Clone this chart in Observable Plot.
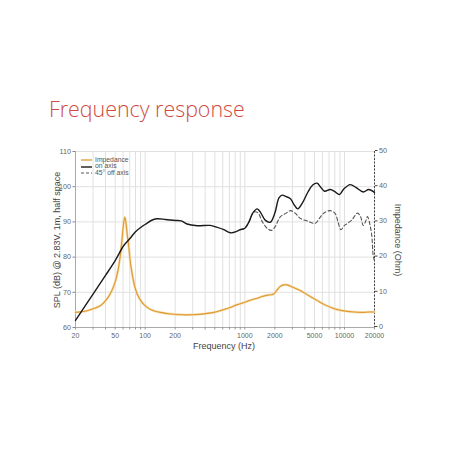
<!DOCTYPE html>
<html><head><meta charset="utf-8">
<script src="https://cdn.jsdelivr.net/npm/d3@7"></script>
<script src="https://cdn.jsdelivr.net/npm/@observablehq/plot@0.6"></script>
<style>
body{margin:0;background:#fff;}
#wrap{position:relative;width:452px;height:452px;overflow:hidden;font-family:"Liberation Sans",Arial,sans-serif;background:#fff;}
#title{position:absolute;left:49px;top:94px;font-family:"Open Sans",sans-serif;font-weight:300;font-size:21.4px;color:#cf4a42;white-space:nowrap;}
#chart{position:absolute;left:0;top:0;}
#legend{position:absolute;left:81px;top:157px;font-size:6.8px;color:#555;}
#legend div{height:6.4px;line-height:6.4px;display:flex;align-items:center;}
#legend svg{margin-right:3px;}
.lab{position:absolute;font-size:9px;color:#444;white-space:nowrap;}
</style>
</head><body>
<div id="wrap">
<div id="title">Frequency response</div>
<div id="chart"></div>
<div id="legend"></div>
<div class="lab" id="xlab" style="left:0;width:448px;text-align:center;top:341px;">&nbsp;</div>
<div class="lab" id="ylab" style="left:57px;top:240px;transform:translate(-50%,-50%) rotate(-90deg);"></div>
<div class="lab" id="y2lab" style="left:398px;top:240px;transform:translate(-50%,-50%) rotate(90deg);"></div>
</div>
<script>
// ---- data ----
const onFreq = [20,30,40,50,61,70,80,93,104,115,131,160,200,230,263,333,450,520,615,720,830,900,1000,1100,1200,1330,1450,1600,1800,2000,2200,2370,2600,2870,3100,3400,3800,4300,4800,5300,5800,6300,7200,8000,8900,9800,11400,13000,15400,17500,20000];
const onSpl  = [62,69.5,74.8,79,83.3,85.2,87.2,88.7,89.6,90.4,90.9,90.7,90.4,90.3,89.4,88.9,89.0,88.5,87.8,86.9,87.3,87.8,88.2,90,92.5,93.7,92.5,90.5,89.9,92.5,96.8,97.6,97.2,96.6,95,93.7,95.5,98.5,100.5,101.0,99.8,98.7,99.2,98.6,97.8,99.3,100.6,99.8,98.5,99.2,98.4];
const offFreq = [900,1000,1100,1230,1350,1500,1700,1850,2000,2280,2600,2870,3200,3600,4200,5100,5600,6200,7200,8100,8600,9200,10000,10600,11800,13500,14500,15400,16200,17000,18000,18800,19400,20000];
const offSpl  = [87.8,88.2,90,92.8,92.6,90,88,87.6,88.5,91.5,92.5,93.2,92.5,91,90.3,89.6,91,92.5,93.2,92.3,90,87.8,89,89.5,90.5,92.5,91.5,89,90,91.5,89.2,86,80.5,79];
const impFreq = [20,25,30,36,41.6,46,50.6,54,56.6,59,61,62.5,64,66,68.6,71,74,78,83,92,104,120,142,170,209,260,330,420,490,570,700,840,980,1150,1330,1500,1700,1900,1960,2100,2250,2450,2650,3000,3600,4300,5300,6300,7800,9500,12400,15000,17500,20000];
const impOhm  = [4.3,4.6,5.3,6.3,8.2,10.3,13.4,17,20.9,26,30,31.3,30,26.5,22.8,18.5,15.3,12,9.6,7.3,5.8,4.8,4.3,3.9,3.7,3.6,3.7,4.0,4.3,4.8,5.6,6.5,7.1,7.8,8.3,8.8,9.2,9.4,9.6,10.6,11.6,12.1,12.1,11.5,10.5,9.2,7.7,6.5,5.4,4.8,4.4,4.3,4.4,4.4];
const gridFreqs = [20,30,40,50,60,70,80,90,100,200,300,400,500,600,700,800,900,1000,2000,3000,4000,5000,6000,7000,8000,9000,10000,20000];
const xTickLabels = [20,50,100,200,1000,2000,5000,10000,20000];
const splTicks = [60,70,80,90,100,110];
const ohmTicks = [0,10,20,30,40,50];
const seriesNames = ["Impedance","on axis","45° off axis"];
const labels = {x:"Frequency (Hz)", y:"SPL (dB) @ 2.83V, 1m, half space", y2:"Impedance (Ohm)"};

const onData = onFreq.map((f,i)=>({f, v:onSpl[i]}));
const offData = offFreq.map((f,i)=>({f, v:offSpl[i]}));
const impData = impFreq.map((f,i)=>({f, z:impOhm[i]}));
// impedance axis: 0..50 Ohm shares the frame with 60..110 dB
const ohmToDb = z => 60 + z;

const chart = Plot.plot({
  width:452, height:452,
  marginLeft:75, marginRight:78, marginTop:151, marginBottom:125,
  style:{fontFamily:"Liberation Sans, Arial, sans-serif", fontSize:"7.2px", color:"#666", background:"transparent"},
  x:{type:"log", domain:[20,20000]},
  y:{domain:[60,110]},
  marks:[
    Plot.gridX(gridFreqs,{stroke:"#e0e0e0", strokeOpacity:1}),
    Plot.gridY(splTicks,{stroke:"#e0e0e0", strokeOpacity:1}),
    Plot.ruleY([60],{stroke:"#aaa"}),
    Plot.ruleX([20],{stroke:"#aaa"}),
    Plot.ruleX([20000],{stroke:"#444", strokeDasharray:"2,1.5"}),
    Plot.axisX(gridFreqs,{tickSize:2.5, stroke:"#999", text:null, label:null}),
    Plot.text(xTickLabels,{x:d=>d, text:d=>String(d), frameAnchor:"bottom", dy:10.5, fill:"#666", fontSize:7}),
    Plot.axisY(splTicks,{anchor:"left", tickSize:2.5, tickPadding:2, stroke:"#888", label:null}),
    Plot.axisY(ohmTicks.map(ohmToDb),{anchor:"right", tickSize:2.5, tickPadding:2, stroke:"#444", dy:-1, tickFormat:d=>String(d-60), label:null}),
    Plot.line(impData,{x:"f", y:d=>ohmToDb(d.z), stroke:"#f5dcae", strokeWidth:2.4, curve:"catmull-rom"}),
    Plot.line(impData,{x:"f", y:d=>ohmToDb(d.z), stroke:"#df9a30", strokeWidth:1.1, curve:"catmull-rom"}),
    Plot.line(offData,{x:"f", y:"v", stroke:"#555", strokeWidth:1.1, strokeDasharray:"3.5,2.5", curve:"catmull-rom"}),
    Plot.line(onData,{x:"f", y:"v", stroke:"#1a1a1a", strokeWidth:1.4, curve:"catmull-rom"})
  ]
});
document.getElementById("chart").append(chart);
document.getElementById("xlab").textContent = labels.x;
document.getElementById("ylab").textContent = labels.y;
document.getElementById("y2lab").textContent = labels.y2;

const styles = [
  {stroke:"#df9a30", dash:null, w:1.3},
  {stroke:"#1a1a1a", dash:null, w:1.4},
  {stroke:"#555", dash:"3,2", w:1.1}
];
const leg = document.getElementById("legend");
seriesNames.forEach((n,i)=>{
  const s = styles[i];
  const row = document.createElement("div");
  row.innerHTML = `<svg width="11" height="4"><line x1="0" x2="11" y1="2" y2="2" stroke="${s.stroke}" stroke-width="${s.w}" ${s.dash?`stroke-dasharray="${s.dash}"`:""}/></svg><span>${n}</span>`;
  leg.append(row);
});
</script>
</body></html>
